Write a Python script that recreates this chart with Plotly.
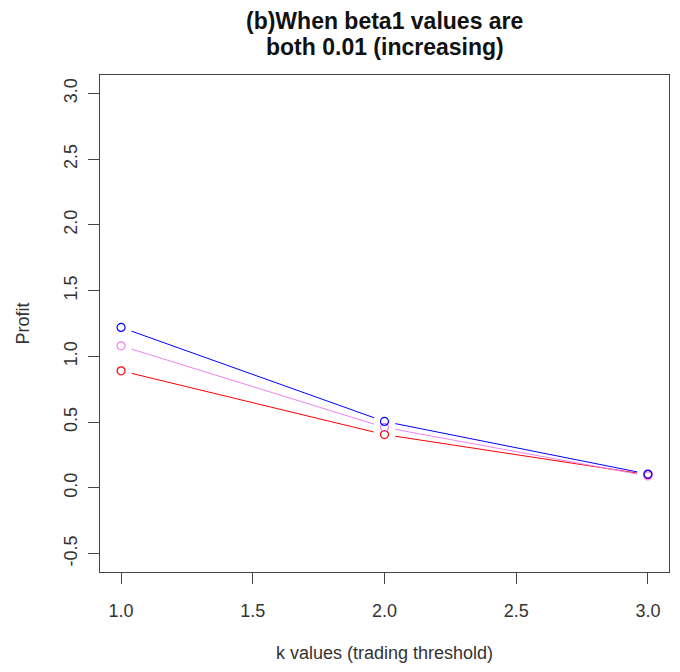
import plotly.graph_objects as go

# ---- data ----
k_values = [1.0, 2.0, 3.0]
profit_red = [0.89, 0.405, 0.10]
profit_violet = [1.08, 0.46, 0.09]
profit_blue = [1.22, 0.505, 0.105]
series_names = ["red", "violet", "blue"]
x_ticks = [1.0, 1.5, 2.0, 2.5, 3.0]
y_ticks = [-0.5, 0.0, 0.5, 1.0, 1.5, 2.0, 2.5, 3.0]

# ---- layout geometry (page body has an 8px margin) ----
W, H = 664, 656
ML, MR, MT, MB = 92, 3, 67, 92
XR = [0.92, 3.08]
YR = [-0.64, 3.14]
PW, PH = W - ML - MR, H - MT - MB
GAP = 11  # px gap around points (R type="b")
FONT = "Liberation Sans, Arial, sans-serif"

def to_px(x, y):
    return ((x - XR[0]) / (XR[1] - XR[0]) * PW, (y - YR[0]) / (YR[1] - YR[0]) * PH)

def to_data(px, py):
    return (XR[0] + px / PW * (XR[1] - XR[0]), YR[0] + py / PH * (YR[1] - YR[0]))

def gapped(xs, ys):
    gx, gy = [], []
    for i in range(len(xs) - 1):
        x0, y0 = to_px(xs[i], ys[i])
        x1, y1 = to_px(xs[i + 1], ys[i + 1])
        dx, dy = x1 - x0, y1 - y0
        L = (dx * dx + dy * dy) ** 0.5
        if L <= 2 * GAP:
            continue
        ux, uy = dx / L, dy / L
        a = to_data(x0 + ux * GAP, y0 + uy * GAP)
        b = to_data(x1 - ux * GAP, y1 - uy * GAP)
        gx += [a[0], b[0], None]
        gy += [a[1], b[1], None]
    return gx, gy

colors = {"red": "#FF0000", "violet": "#EE82EE", "blue": "#0000FF"}
data = {"red": profit_red, "violet": profit_violet, "blue": profit_blue}

fig = go.Figure()
for name in series_names:
    ys = data[name]
    gx, gy = gapped(k_values, ys)
    fig.add_trace(go.Scatter(x=gx, y=gy, mode="lines", line=dict(color=colors[name], width=1),
                             hoverinfo="skip", showlegend=False))
    fig.add_trace(go.Scatter(x=k_values, y=ys, mode="markers", name=name,
                             marker=dict(symbol="circle-open", size=8, color=colors[name],
                                         line=dict(width=1.2, color=colors[name])),
                             showlegend=False))

axis_common = dict(showgrid=False, zeroline=False, showline=True, mirror=True,
                   linecolor="#444444", linewidth=1, ticks="outside", ticklen=11,
                   tickcolor="#444444", tickwidth=1,
                   tickfont=dict(family=FONT, size=18, color="#333333"))

fig.update_layout(
    width=W, height=H,
    margin=dict(l=ML, r=MR, t=MT, b=MB),
    paper_bgcolor="white", plot_bgcolor="white",
    xaxis=dict(range=XR, tickvals=x_ticks, ticktext=[f"{v:.1f}" for v in x_ticks],
               ticklabelstandoff=11, **axis_common),
    yaxis=dict(range=YR, tickvals=y_ticks, ticktext=[f"{v:.1f}" for v in y_ticks],
               tickangle=-90, ticklabelstandoff=4, **axis_common),
    annotations=[
        dict(text="<b>(b)When beta1 values are</b>", xref="paper", yref="paper", x=0.5, y=1,
             yshift=54, xanchor="center", yanchor="middle", showarrow=False,
             font=dict(family=FONT, size=23, color="#111111")),
        dict(text="<b>both 0.01 (increasing)</b>", xref="paper", yref="paper", x=0.5, y=1,
             yshift=28, xanchor="center", yanchor="middle", showarrow=False,
             font=dict(family=FONT, size=23, color="#111111")),
        dict(text="k values (trading threshold)", xref="paper", yref="paper", x=0.5, y=0,
             yshift=-81, xanchor="center", yanchor="middle", showarrow=False,
             font=dict(family=FONT, size=18, color="#333333")),
        dict(text="Profit", xref="paper", yref="paper", x=0, y=0.5, xshift=-78,
             xanchor="center", yanchor="middle", textangle=-90, showarrow=False,
             font=dict(family=FONT, size=18, color="#333333")),
    ],
)

fig.write_html("out.html")
